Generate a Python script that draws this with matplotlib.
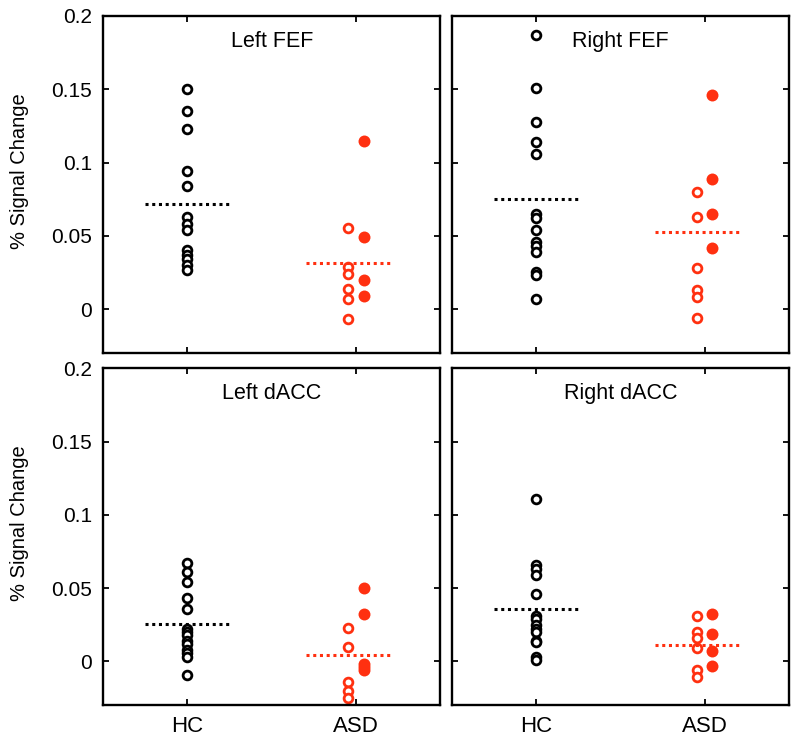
import numpy as np
import matplotlib
matplotlib.use("Agg")
import matplotlib.pyplot as plt

plt.rcParams['font.family'] = ['Liberation Sans', 'DejaVu Sans']

red = '#ff3010'

titles = ["Left FEF", "Right FEF", "Left dACC", "Right dACC"]
groups = ["HC", "ASD"]

# healthy controls
hc = [
    [0.150, 0.135, 0.123, 0.094, 0.084, 0.063, 0.058, 0.054, 0.040, 0.037, 0.034, 0.030, 0.027],
    [0.187, 0.151, 0.128, 0.114, 0.106, 0.065, 0.062, 0.054, 0.046, 0.043, 0.039, 0.025, 0.023, 0.007],
    [0.067, 0.061, 0.054, 0.043, 0.036, 0.022, 0.020, 0.018, 0.014, 0.012, 0.008, 0.006, 0.003, -0.009],
    [0.111, 0.066, 0.063, 0.059, 0.046, 0.031, 0.029, 0.025, 0.022, 0.020, 0.014, 0.013, 0.003, 0.001],
]
# ASD, open circles
asd_open = [
    [0.055, 0.029, 0.024, 0.014, 0.007, -0.007],
    [0.080, 0.063, 0.028, 0.013, 0.008, -0.006],
    [0.023, 0.010, -0.014, -0.020, -0.025],
    [0.031, 0.020, 0.016, 0.009, -0.006, -0.011],
]
# ASD, filled circles
asd_fill = [
    [0.115, 0.049, 0.020, 0.009],
    [0.146, 0.089, 0.065, 0.042],
    [0.050, 0.032, -0.002, -0.004, -0.006],
    [0.032, 0.019, 0.007, -0.003],
]

fig = plt.figure(figsize=(8, 7.44), dpi=100)
lefts = [0.129, 0.565]
bottoms = [0.5255, 0.052]
w, h = 0.4213, 0.453

for i in range(4):
    r, c = divmod(i, 2)
    ax = fig.add_axes([lefts[c], bottoms[r], w, h])
    x_open = 1.955
    x_fill = 2.045
    ax.plot(np.ones(len(hc[i])), hc[i], 'o', ms=6.3, mfc='white', mec='black', mew=2.0)
    ax.plot(np.full(len(asd_open[i]), x_open), asd_open[i], 'o', ms=6.3, mfc='white', mec=red, mew=2.0)
    ax.plot(np.full(len(asd_fill[i]), x_fill), asd_fill[i], 'o', ms=8.6, mfc=red, mec=red, mew=0)
    m1 = np.mean(hc[i])
    m2 = np.mean(asd_open[i] + asd_fill[i])
    ax.plot([0.75, 1.25], [m1, m1], color='black', lw=2.2, ls=(0, (1, 1.2)))
    ax.plot([x_open - 0.25, x_open + 0.25], [m2, m2], color=red, lw=2.2, ls=(0, (1, 1.2)))
    ax.text(0.5, 0.925, titles[i], transform=ax.transAxes, ha='center', va='center', fontsize=15.5)
    ax.set_xlim(0.5, 2.5)
    ax.set_ylim(-0.03, 0.2)
    ax.set_xticks([1, 2])
    ax.set_yticks([0, 0.05, 0.1, 0.15, 0.2])
    ax.tick_params(direction='in', length=4, width=1.3, top=True, right=True, labelsize=15, pad=8)
    for s in ax.spines.values():
        s.set_linewidth(1.7)
    if r == 1:
        ax.set_xticklabels(groups, fontsize=16)
    else:
        ax.set_xticklabels([])
    if c == 0:
        ax.set_yticklabels(["0", "0.05", "0.1", "0.15", "0.2"])
        ax.set_ylabel("% Signal Change", fontsize=14.5)
        ax.yaxis.set_label_coords(-0.22, 0.54)
    else:
        ax.set_yticklabels([])

fig.savefig("out.png", dpi=100)
